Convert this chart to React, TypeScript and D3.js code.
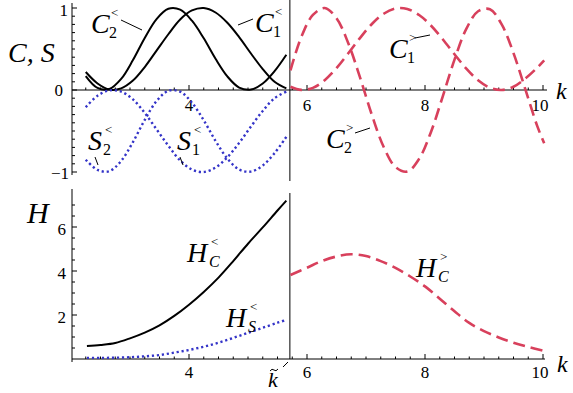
import * as d3 from 'd3';

// upper panel, k below k~ (C and S, "<" branch)
const kLeft = [2.25, 2.45, 2.65, 2.85, 3.05, 3.25, 3.45, 3.65, 3.85, 4.05, 4.25, 4.45, 4.65, 4.85, 5.05, 5.25, 5.45, 5.65];
const c1Left = [0.22, 0.08, 0.005, 0.02, 0.115, 0.28, 0.48, 0.68, 0.86, 0.97, 1.0, 0.945, 0.82, 0.645, 0.445, 0.255, 0.1, 0.02];
const c2Left = [0.17, 0.025, 0.012, 0.135, 0.365, 0.635, 0.865, 0.99, 0.98, 0.845, 0.63, 0.38, 0.165, 0.03, 0.005, 0.08, 0.23, 0.43];
const s1Left = [-0.21, -0.07, -0.005, -0.02, -0.115, -0.28, -0.48, -0.68, -0.86, -0.97, -1.0, -0.945, -0.82, -0.645, -0.445, -0.255, -0.1, -0.02];
const s2Left = [-0.85, -0.975, -0.99, -0.865, -0.635, -0.365, -0.135, -0.01, -0.02, -0.155, -0.37, -0.62, -0.835, -0.97, -0.995, -0.92, -0.77, -0.57];

// upper panel, k above k~ (">" branch)
const kRight = [5.72, 5.9, 6.1, 6.3, 6.5, 6.7, 6.9, 7.1, 7.3, 7.5, 7.7, 7.9, 8.1, 8.3, 8.5, 8.7, 8.9, 9.1, 9.3, 9.5, 9.7, 9.9, 10.02];
const c1Right = [0.04, 0.001, 0.026, 0.12, 0.267, 0.448, 0.636, 0.805, 0.93, 0.994, 0.988, 0.915, 0.787, 0.619, 0.436, 0.261, 0.118, 0.027, 0.0, 0.04, 0.14, 0.27, 0.36];
const c2Right = [0.24, 0.64, 0.915, 1.0, 0.875, 0.57, 0.15, -0.305, -0.695, -0.94, -0.995, -0.84, -0.515, -0.08, 0.37, 0.745, 0.96, 0.985, 0.8, 0.45, 0.01, -0.435, -0.65];

// lower panel
const kBotLeft = [2.27, 2.5, 2.75, 3.0, 3.25, 3.5, 3.75, 4.0, 4.25, 4.5, 4.75, 5.0, 5.25, 5.5, 5.65];
const hcLeft = [0.59, 0.64, 0.73, 0.94, 1.2, 1.53, 1.96, 2.47, 3.05, 3.7, 4.45, 5.24, 5.98, 6.75, 7.2];
const hsLeft = [0.05, 0.05, 0.06, 0.08, 0.12, 0.18, 0.29, 0.41, 0.56, 0.74, 0.96, 1.19, 1.42, 1.65, 1.78];
const kBotRight = [5.72, 6.0, 6.25, 6.5, 6.75, 7.0, 7.25, 7.5, 7.75, 8.0, 8.25, 8.5, 8.75, 9.0, 9.25, 9.5, 9.75, 10.0];
const hcRight = [3.82, 4.15, 4.45, 4.66, 4.76, 4.68, 4.45, 4.14, 3.75, 3.3, 2.74, 2.17, 1.64, 1.27, 0.98, 0.74, 0.55, 0.38];

const kTicks = [4, 6, 8, 10];
const csTicks = [-1, 0, 1];
const hTicks = [2, 4, 6];
const kTilde = 5.71;

const SERIF = "'Liberation Serif', 'Times New Roman', 'DejaVu Serif', 'Noto Serif', serif";
const BLUE = '#3434c8';
const RED = '#d8405c';

const x = d3.scaleLinear().domain([2, 10]).range([71, 543]);
const yTop = d3.scaleLinear().domain([-1, 1]).range([172, 8]);
const yBot = d3.scaleLinear().domain([0, 7.5]).range([359, 194]);

function path(ks: number[], vs: number[], y: d3.ScaleLinear<number, number>) {
  const line = d3
    .line<number>()
    .x((_, i) => x(ks[i]))
    .y((v) => y(v))
    .curve(d3.curveCatmullRom.alpha(0.5));
  return line(vs) || '';
}

function range(a: number, b: number, step: number) {
  const out: number[] = [];
  for (let v = a; v <= b + 1e-9; v += step) out.push(+v.toFixed(3));
  return out;
}

const txt = (size: number, italic = false) => ({
  fontFamily: SERIF,
  fontSize: size,
  fontStyle: italic ? 'italic' : 'normal',
});

// letter with stacked subscript / superscript, Mathematica style
function Sym({ px, py, base, sub, sup, subItalic = false, dx = 18, size = 28 }) {
  return (
    <g>
      <text x={px} y={py} style={txt(size, true)}>{base}</text>
      <text x={px + dx} y={py + 5} style={txt(16, subItalic)}>{sub}</text>
      <text x={px + dx + 2} y={py - 16} style={txt(13)}>{sup}</text>
    </g>
  );
}

function Axes({ y0, yScale, yMajor, yMinor, xEnd, labelDy }) {
  const minorX = range(2.25, 10, 0.25).filter((k) => !kTicks.includes(k));
  const [yLo, yHi] = yScale.range();
  return (
    <g stroke="#000" strokeWidth={1}>
      <line x1={72} x2={xEnd} y1={y0} y2={y0} />
      <line x1={72} x2={72} y1={yLo + 3} y2={yHi - 5} />
      {minorX.map((k) => (
        <line key={'mx' + k} x1={x(k)} x2={x(k)} y1={y0} y2={y0 - 2.5} />
      ))}
      {kTicks.map((k) => (
        <line key={'Mx' + k} x1={x(k)} x2={x(k)} y1={y0} y2={y0 - 5} />
      ))}
      {yMinor.map((v) => (
        <line key={'my' + v} x1={72} x2={75} y1={yScale(v)} y2={yScale(v)} />
      ))}
      {yMajor.map((v) => (
        <line key={'My' + v} x1={72} x2={77} y1={yScale(v)} y2={yScale(v)} />
      ))}
      <g stroke="none" textAnchor="middle">
        {kTicks.map((k) => (
          <text key={'lx' + k} x={x(k) + (k === 10 ? -3 : 0)} y={y0 + labelDy} style={txt(17)}>{k}</text>
        ))}
      </g>
    </g>
  );
}

export default function App() {
  const csMinor = range(-1, 1, 0.1).filter((v) => !csTicks.includes(Math.round(v * 10) / 10));
  const hMinor = range(0.5, 7, 0.5).filter((v) => !hTicks.includes(v));
  const tx = 270;
  const ty = 369;
  return (
    <svg width={573} height={393} style={{ position: 'absolute', left: 0, top: 0, background: '#fff' }}>
      {/* ---------- upper panel ---------- */}
      <Axes y0={yTop(0)} yScale={yTop} yMajor={csTicks} yMinor={csMinor} xEnd={547} labelDy={21} />
      <line x1={x(kTilde)} x2={x(kTilde)} y1={0} y2={181} stroke="#000" />
      <g textAnchor="end">
        <text x={68} y={yTop(1) + 8} style={txt(17)}>1</text>
        <text x={63} y={yTop(0) + 6} style={txt(17)}>0</text>
        <text x={69} y={yTop(-1) + 7} style={txt(17)}>−1</text>
      </g>
      <text x={8} y={62} style={txt(28, true)}>C, S</text>
      <text x={556} y={99} style={txt(24, true)}>k</text>

      <path d={path(kLeft, c1Left, yTop)} fill="none" stroke="#000" strokeWidth={2} />
      <path d={path(kLeft, c2Left, yTop)} fill="none" stroke="#000" strokeWidth={2} />
      <path d={path(kLeft, s1Left, yTop)} fill="none" stroke={BLUE} strokeWidth={2.4} strokeDasharray="2.2 2.8" />
      <path d={path(kLeft, s2Left, yTop)} fill="none" stroke={BLUE} strokeWidth={2.4} strokeDasharray="2.2 2.8" />
      <path d={path(kRight, c1Right, yTop)} fill="none" stroke={RED} strokeWidth={2.6} strokeDasharray="12 6" />
      <path d={path(kRight, c2Right, yTop)} fill="none" stroke={RED} strokeWidth={2.6} strokeDasharray="12 6" />

      <Sym px={91} py={33} base="C" sub="2" sup="<" />
      <line x1={121} y1={20} x2={142} y2={30} stroke="#000" />
      <Sym px={255} py={32} base="C" sub="1" sup="<" />
      <line x1={238} y1={25} x2={253} y2={19} stroke="#000" />
      <Sym px={88} py={150} base="S" sub="2" sup="<" dx={15} />
      <line x1={95} y1={157} x2={98} y2={165} stroke="#000" />
      <Sym px={177} py={150} base="S" sub="1" sup="<" dx={15} />
      <line x1={180} y1={157} x2={183} y2={165} stroke="#000" />
      <Sym px={389} py={58} base="C" sub="1" sup=">" />
      <line x1={415} y1={38} x2={430} y2={35} stroke="#000" />
      <Sym px={326} py={148} base="C" sub="2" sup=">" />
      <line x1={355} y1={133} x2={370} y2={128} stroke="#000" />

      {/* ---------- lower panel ---------- */}
      <Axes y0={yBot(0)} yScale={yBot} yMajor={hTicks} yMinor={hMinor} xEnd={545} labelDy={19} />
      <line x1={x(kTilde)} x2={x(kTilde)} y1={193} y2={yBot(0)} stroke="#000" />
      <g textAnchor="end">
        {hTicks.map((v) => (
          <text key={v} x={66} y={yBot(v) + 8} style={txt(17)}>{v}</text>
        ))}
      </g>
      <text x={27} y={223} style={txt(30, true)}>H</text>
      <text x={557} y={372} style={txt(24, true)}>k</text>
      <text x={268} y={387} style={txt(22, true)}>k</text>
      <path
        d={`M${tx},${ty + 2} q2,-3 4,-1 t4,-1`}
        fill="none"
        stroke="#000"
        strokeWidth={1}
      />
      <line x1={283} y1={367} x2={288} y2={362} stroke="#000" />

      <path d={path(kBotLeft, hcLeft, yBot)} fill="none" stroke="#000" strokeWidth={2} />
      <path d={path(kBotLeft, hsLeft, yBot)} fill="none" stroke={BLUE} strokeWidth={2.4} strokeDasharray="2.2 2.8" />
      <path d={path(kBotRight, hcRight, yBot)} fill="none" stroke={RED} strokeWidth={2.6} strokeDasharray="12 6" />

      <Sym px={187} py={262} base="H" sub="C" sup="<" dx={22} subItalic />
      <Sym px={226} py={327} base="H" sub="S" sup="<" dx={22} subItalic />
      <Sym px={416} py={277} base="H" sub="C" sup=">" dx={22} subItalic />
    </svg>
  );
}
